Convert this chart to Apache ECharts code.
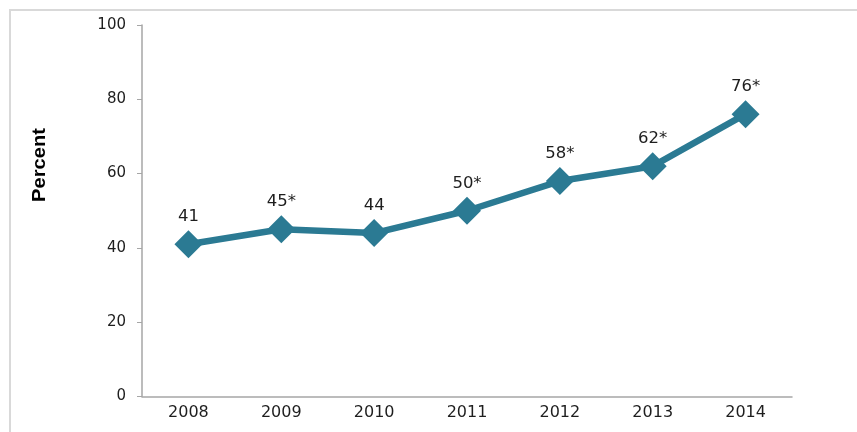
<!DOCTYPE html>
<html><head><meta charset="utf-8">
<script src="https://cdn.jsdelivr.net/npm/echarts@6/dist/echarts.min.js"></script>
<style>html,body{margin:0;padding:0;background:#fff}#c{width:857px;height:432px}</style>
</head><body><div id="c"></div>
<script>
var years = ['2008','2009','2010','2011','2012','2013','2014'];
var percent = [41, 45, 44, 50, 58, 62, 76];
var pointLabels = ['41','45*','44','50*','58*','62*','76*'];
var yTicks = [0, 20, 40, 60, 80, 100];

var chart = echarts.init(document.getElementById('c'), null, {renderer:'canvas'});
chart.setOption({
  animation: false,
  backgroundColor: '#fff',
  graphic: [
    {type:'rect', shape:{x:10, y:10, width:900, height:500}, style:{fill:'none', stroke:'#d9d9d9', lineWidth:2}},
    {type:'text', x:40, y:165, rotation:Math.PI/2, scaleX:1.12, style:{text:'Percent', font:'bold 18px "Liberation Sans", Arial', fill:'#000', textAlign:'center', textVerticalAlign:'middle'}}
  ],
  grid: {left:142, right:65, top:25, bottom:35.5},
  xAxis: {
    type:'category', data: years, boundaryGap:true,
    axisLine:{lineStyle:{color:'#a6a6a6', width:1.5}},
    axisTick:{alignWithLabel:false, length:5, inside:true, lineStyle:{color:'#a6a6a6'}},
    axisLabel:{color:'#1e1e1e', fontSize:16, fontFamily:'DejaVu Sans', margin:8}
  },
  yAxis: {
    type:'value', min:0, max:100, interval:20,
    axisLine:{show:true, lineStyle:{color:'#a6a6a6', width:1.5}},
    axisTick:{show:true, length:5, lineStyle:{color:'#a6a6a6'}},
    splitLine:{show:false},
    axisLabel:{color:'#1e1e1e', fontSize:15, fontFamily:'DejaVu Sans', margin:16,
      formatter:function(v){return yTicks.indexOf(v)>=0 ? String(v) : '';}}
  },
  series: [{
    type:'line', data: percent,
    symbol:'diamond', symbolSize:28,
    lineStyle:{color:'#2b7a93', width:6.5},
    itemStyle:{color:'#2b7a93'},
    label:{show:true, position:'top', distance:5, color:'#1e1e1e', fontSize:16.5, fontFamily:'DejaVu Sans',
      formatter:function(p){return pointLabels[p.dataIndex];}}
  }]
});
</script></body></html>
